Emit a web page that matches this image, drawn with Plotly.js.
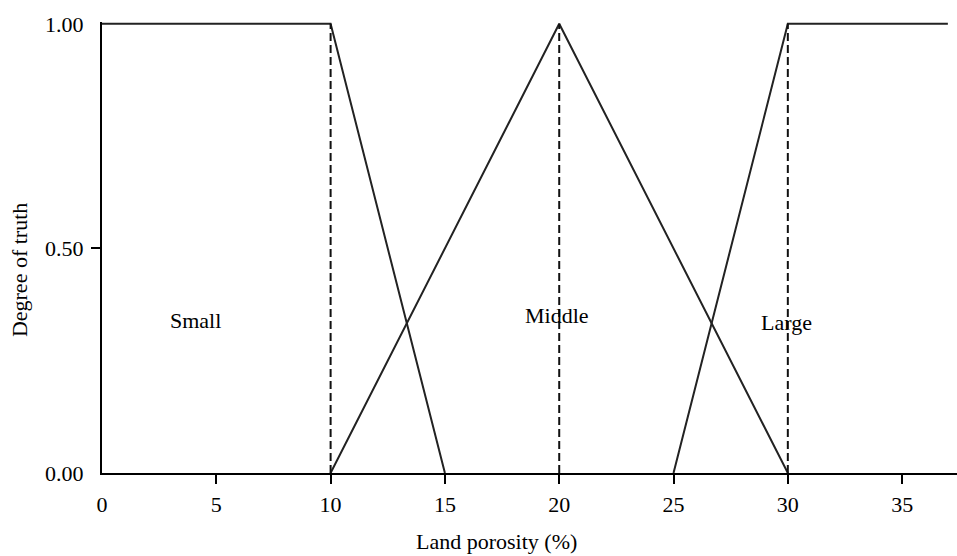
<!DOCTYPE html>
<html>
<head>
<meta charset="utf-8">
<script src="https://cdn.plot.ly/plotly-3.0.1.min.js"></script>
<style>
    html, body { margin: 0; padding: 0; background: #fff; }
    #plot-container { width: 957px; height: 556px; }
</style>
</head>
<body>
<div id="plot-container"></div>
<script>
// Membership functions (land porosity in %, degree of truth)
const small_x = [0, 10, 15];
const small_y = [1, 1, 0];
const middle_x = [10, 20, 30];
const middle_y = [0, 1, 0];
const large_x = [25, 30, 37];
const large_y = [0, 1, 1];

// Dashed guide lines at the peaks
const guide_x = [10, 20, 30];
const guide_y = [0, 1];

// Labels of the fuzzy sets
const set_names = ['Small', 'Middle', 'Large'];
const set_x = [4.1, 19.9, 29.95];
const set_y = [0.34, 0.35, 0.335];

// Axis ticks (labels on one axis, tick marks on an overlay so 0 and 1.00 get no mark)
const x_ticks = [0, 5, 10, 15, 20, 25, 30, 35];
const x_marks = [5, 10, 15, 20, 25, 30, 35];
const y_ticks = [0, 0.5, 1];
const y_tick_text = ['0.00', '0.50', '1.00'];
const y_marks = [0.5];

const x_range = [0, 37.4];
const y_range = [0, 1.004];

const font_family = '"Liberation Serif", "Times New Roman", serif';
const line_color = '#222';

let traces = [];

// Solid membership lines
[[small_x, small_y], [middle_x, middle_y], [large_x, large_y]].forEach(([x, y], i) => {
    traces.push({
        x: x,
        y: y,
        mode: 'lines',
        name: set_names[i],
        line: {color: line_color, width: 2},
        hoverinfo: 'skip'
    });
});

// Dashed verticals, drawn on the overlay axes (same ranges)
guide_x.forEach(gx => {
    traces.push({
        x: [gx, gx],
        y: guide_y,
        xaxis: 'x2',
        yaxis: 'y2',
        mode: 'lines',
        line: {color: '#111', width: 2, dash: '8px,4px'},
        hoverinfo: 'skip'
    });
});

let annotations = set_names.map((name, i) => ({
    x: set_x[i],
    y: set_y[i],
    xref: 'x',
    yref: 'y',
    text: name,
    showarrow: false,
    xanchor: 'center',
    yanchor: 'middle',
    font: {family: font_family, size: 22, color: '#000'}
}));

// Axis titles (placed as in the reference, slightly off-centre)
annotations.push({
    x: 0.461, y: -0.152, xref: 'paper', yref: 'paper',
    text: 'Land porosity (%)', showarrow: false,
    xanchor: 'center', yanchor: 'middle',
    font: {family: font_family, size: 22, color: '#000'}
});
annotations.push({
    x: -0.097, y: 0.45, xref: 'paper', yref: 'paper',
    text: 'Degree of truth', showarrow: false, textangle: -90,
    xanchor: 'center', yanchor: 'middle',
    font: {family: font_family, size: 22, color: '#000'}
});

const layout = {
    width: 957,
    height: 556,
    margin: {l: 102, r: 0, t: 22, b: 83},
    paper_bgcolor: '#fff',
    plot_bgcolor: '#fff',
    showlegend: false,
    font: {family: font_family, size: 22, color: '#000'},
    xaxis: {
        range: x_range,
        tickvals: x_ticks,
        ticks: '',
        ticklabelstandoff: 11,
        showline: true,
        linewidth: 2,
        linecolor: '#000',
        showgrid: false,
        zeroline: false
    },
    yaxis: {
        range: y_range,
        tickvals: y_ticks,
        ticktext: y_tick_text,
        ticks: '',
        ticklabelstandoff: 12,
        showline: true,
        linewidth: 2,
        linecolor: '#000',
        showgrid: false,
        zeroline: false
    },
    xaxis2: {
        overlaying: 'x',
        side: 'bottom',
        anchor: 'y2',
        range: x_range,
        tickvals: x_marks,
        showticklabels: false,
        ticks: 'outside',
        ticklen: 10,
        tickwidth: 2,
        tickcolor: '#000',
        showline: false,
        showgrid: false,
        zeroline: false
    },
    yaxis2: {
        overlaying: 'y',
        side: 'left',
        anchor: 'x2',
        range: y_range,
        tickvals: y_marks,
        showticklabels: false,
        ticks: 'outside',
        ticklen: 10,
        tickwidth: 2,
        tickcolor: '#000',
        showline: false,
        showgrid: false,
        zeroline: false
    },
    annotations: annotations
};

Plotly.newPlot('plot-container', traces, layout, {displayModeBar: false, staticPlot: true});
</script>
</body>
</html>
